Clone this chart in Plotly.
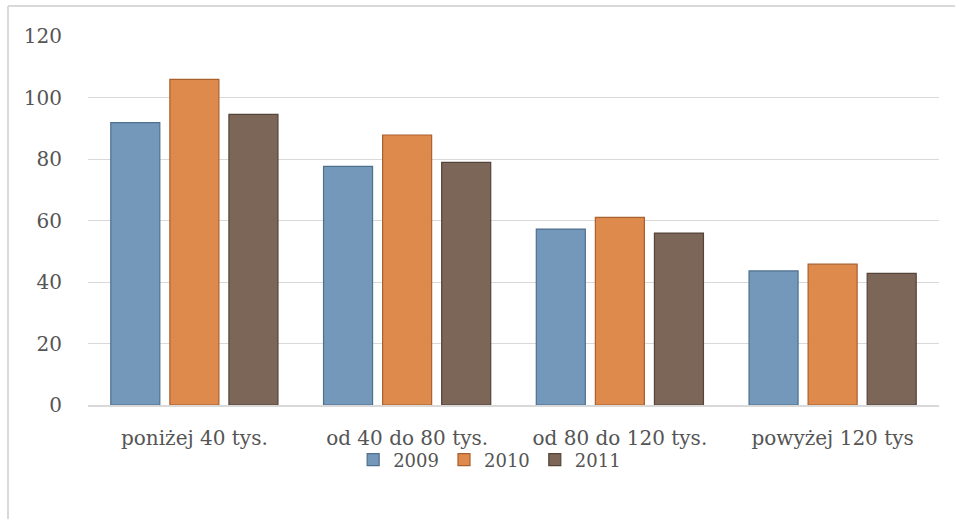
import plotly.graph_objects as go

categories = ["poniżej 40 tys.", "od 40 do 80 tys.", "od 80 do 120 tys.", "powyżej 120 tys"]
series_names = ["2009", "2010", "2011"]
values_2009 = [91.8, 77.6, 57.2, 43.6]
values_2010 = [105.9, 87.8, 61.0, 45.8]
values_2011 = [94.5, 78.9, 55.9, 42.8]
y_ticks = [0, 20, 40, 60, 80, 100, 120]

colors = ["#7398BA", "#DF8A4D", "#7B6658"]
line_colors = ["#4F6F8E", "#A8602C", "#54443A"]
FONT = "DejaVu Serif"
TXT = "#555555"
FS = 20

fig = go.Figure()
for name, vals, c, lc in zip(series_names, [values_2009, values_2010, values_2011], colors, line_colors):
    fig.add_trace(go.Bar(
        x=categories, y=vals, name=name,
        marker=dict(color=c, line=dict(color=lc, width=1.2)),
    ))

L, R, T, B = 88, 16, 36, 114
W, H = 955, 519
pw = W - L - R
ph = H - T - B

def px(x):
    return (x - L) / pw

def py(y):
    return (H - B - y) / ph

fig.update_layout(
    width=W, height=H,
    margin=dict(l=L, r=R, t=T, b=B),
    paper_bgcolor="white", plot_bgcolor="white",
    barmode="group", bargap=0.167, bargroupgap=0.17,
    font=dict(family=FONT, size=FS, color=TXT),
    showlegend=True,
    legend=dict(orientation="h", x=0.472, xanchor="center", y=py(460), yanchor="middle",
                font=dict(family=FONT, size=18, color=TXT),
                itemwidth=30, tracegroupgap=0, bgcolor="rgba(0,0,0,0)"),
    xaxis=dict(showgrid=False, showline=True, linecolor="#D9D9D9", linewidth=1.5,
               ticks="", tickfont=dict(family=FONT, size=FS, color=TXT), ticklabelstandoff=14),
    yaxis=dict(range=[0, 120], tickvals=y_ticks, showgrid=True, gridcolor="#D9D9D9", gridwidth=1,
               zeroline=False, showline=False, ticks="",
               tickfont=dict(family=FONT, size=FS, color=TXT), ticklabelstandoff=25),
    shapes=[
        dict(type="line", xref="paper", yref="paper", x0=px(8), x1=px(8), y0=py(519), y1=py(6),
             line=dict(color="#D9D9D9", width=2)),
        dict(type="line", xref="paper", yref="paper", x0=px(8), x1=px(956), y0=py(6), y1=py(6),
             line=dict(color="#D9D9D9", width=2)),
    ],
)

fig.write_html("out.html", config={"displayModeBar": False},
               post_script="document.body.style.margin='0';document.body.style.overflow='hidden';")
